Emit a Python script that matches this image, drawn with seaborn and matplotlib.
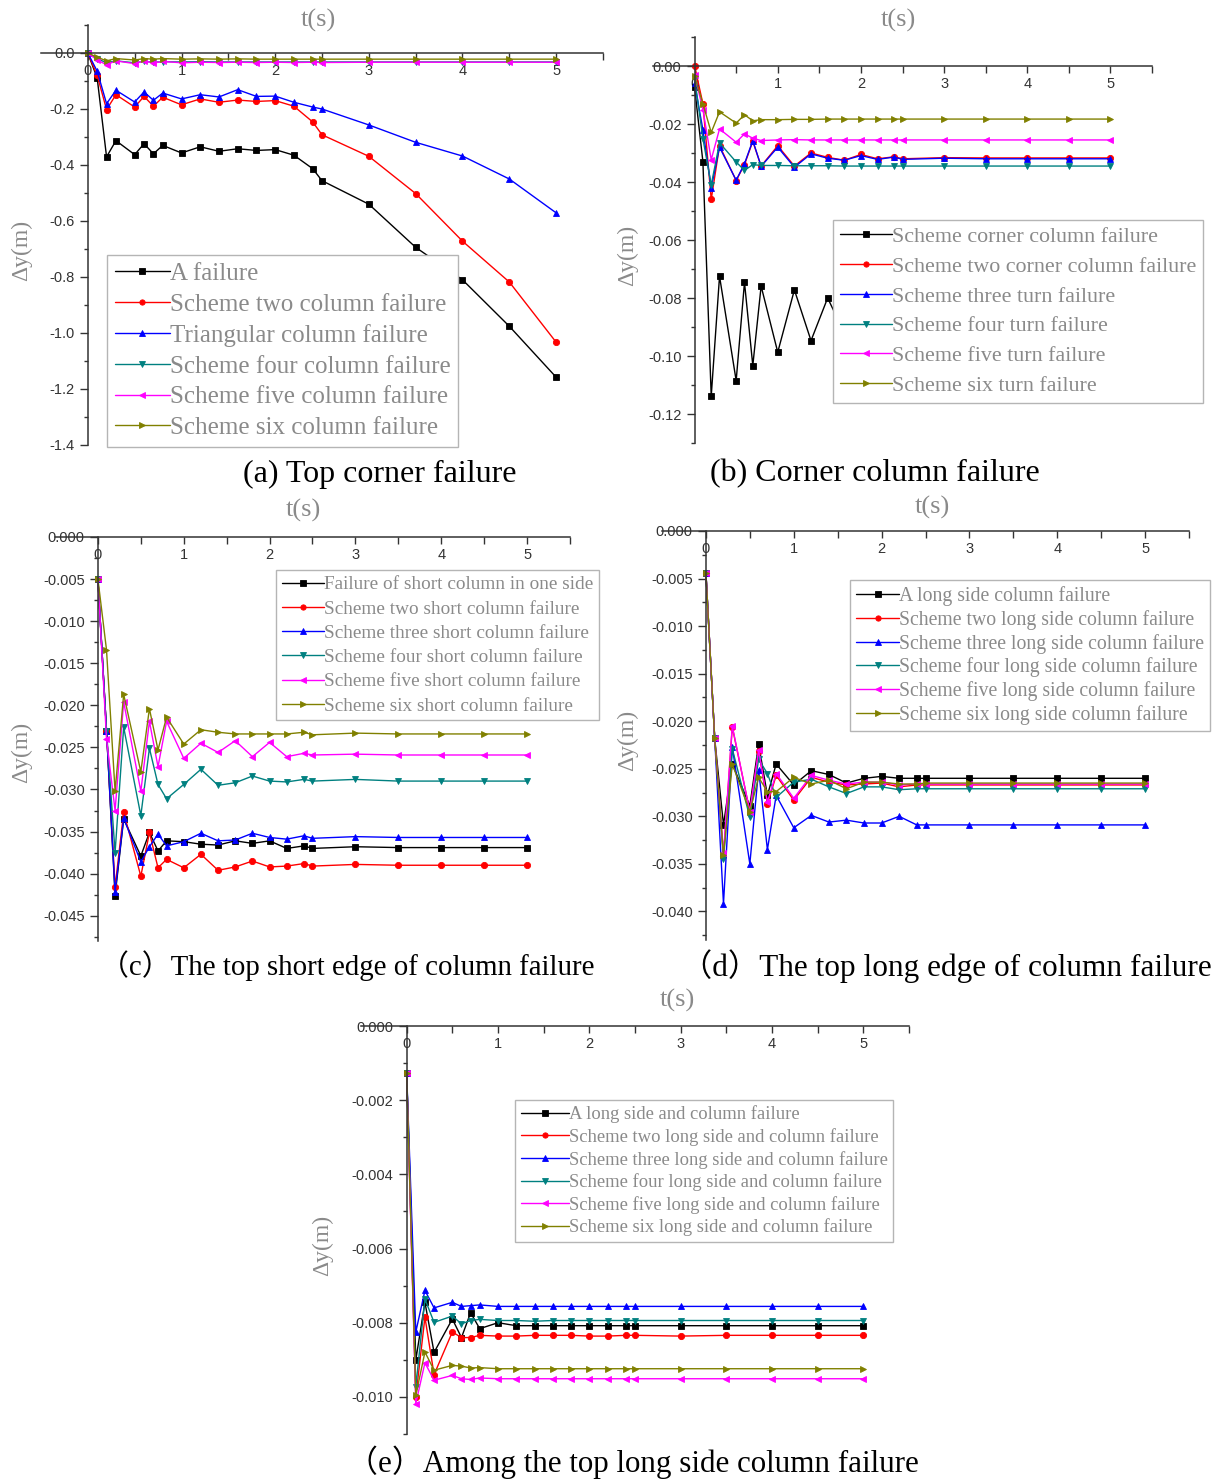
import numpy as np
import matplotlib
matplotlib.use("Agg")
import matplotlib.pyplot as plt
import seaborn as sns
from matplotlib.ticker import MultipleLocator, FixedLocator, FormatStrFormatter
from matplotlib.font_manager import FontProperties

# time steps (s)
t = [0, 0.1, 0.2, 0.3, 0.5, 0.6, 0.7, 0.8, 1.0, 1.2, 1.4, 1.6, 1.8, 2.0,
     2.2, 2.4, 2.5, 3.0, 3.5, 4.0, 4.5, 5.0]

# (a) Top corner failure
a_labels = ["A failure", "Scheme two column failure", "Triangular column failure",
            "Scheme four column failure", "Scheme five column failure",
            "Scheme six column failure"]
a_black = [0, -0.09, -0.371, -0.313, -0.363, -0.324, -0.360, -0.330, -0.357, -0.335, -0.351,
           -0.342, -0.348, -0.345, -0.365, -0.413, -0.456, -0.540, -0.694, -0.810, -0.976, -1.158]
a_red = [0, -0.08, -0.202, -0.149, -0.193, -0.155, -0.190, -0.158, -0.185, -0.164, -0.176,
         -0.168, -0.173, -0.170, -0.190, -0.246, -0.292, -0.369, -0.502, -0.672, -0.818, -1.033]
a_blue = [0, -0.065, -0.181, -0.133, -0.175, -0.139, -0.169, -0.143, -0.164, -0.149, -0.157,
          -0.131, -0.155, -0.154, -0.176, -0.193, -0.200, -0.257, -0.319, -0.368, -0.450, -0.571]
a_teal = [0, -0.020, -0.035, -0.028, -0.035, -0.030, -0.033, -0.031, -0.032, -0.031, -0.032,
          -0.032, -0.032, -0.032, -0.032, -0.032, -0.032, -0.032, -0.032, -0.032, -0.032, -0.032]
a_magenta = [0, -0.025, -0.042, -0.028, -0.038, -0.028, -0.036, -0.030, -0.035, -0.033, -0.034,
             -0.033, -0.034, -0.033, -0.034, -0.033, -0.034, -0.033, -0.033, -0.033, -0.033, -0.033]
a_olive = [0, -0.015, -0.028, -0.020, -0.025, -0.020, -0.022, -0.020, -0.022, -0.021, -0.022,
           -0.021, -0.022, -0.022, -0.022, -0.022, -0.022, -0.022, -0.022, -0.022, -0.022, -0.022]

# (b) Corner column failure
b_labels = ["Scheme corner column failure", "Scheme two corner column failure",
            "Scheme three turn failure", "Scheme four turn failure",
            "Scheme five turn failure", "Scheme six turn failure"]
b_black = [-0.0074, -0.033, -0.1139, -0.0725, -0.1085, -0.0746, -0.1033, -0.0759, -0.0987, -0.0772,
           -0.0947, -0.0800, -0.0920, -0.0820, -0.0900, -0.0840, -0.0880, -0.0860, -0.0870, -0.0865,
           -0.0868, -0.0866]
b_red = [0.0, -0.013, -0.046, -0.0275, -0.0395, -0.034, -0.026, -0.0345, -0.0275, -0.0345, -0.0300,
         -0.0315, -0.0325, -0.0305, -0.0320, -0.0313, -0.0320, -0.0316, -0.0317, -0.0317, -0.0317, -0.0317]
b_blue = [-0.006, -0.022, -0.042, -0.028, -0.0394, -0.0337, -0.0257, -0.0346, -0.0280, -0.0349, -0.0303,
          -0.0318, -0.0325, -0.0309, -0.0322, -0.0314, -0.0322, -0.0318, -0.0320, -0.0320, -0.0320, -0.0320]
b_teal = [-0.004, -0.025, -0.041, -0.0265, -0.0331, -0.0360, -0.0340, -0.0343, -0.0343, -0.0344, -0.0344,
          -0.0344, -0.0345, -0.0345, -0.0345, -0.0345, -0.0345, -0.0345, -0.0345, -0.0345, -0.0345, -0.0345]
b_magenta = [-0.003, -0.015, -0.0323, -0.0217, -0.0263, -0.0234, -0.0249, -0.0257, -0.0255, -0.0254, -0.0255,
             -0.0255, -0.0255, -0.0255, -0.0255, -0.0255, -0.0255, -0.0255, -0.0255, -0.0255, -0.0255, -0.0255]
b_olive = [-0.0035, -0.013, -0.0229, -0.0158, -0.0197, -0.0168, -0.0189, -0.0185, -0.0185, -0.0184, -0.0184,
           -0.0183, -0.0183, -0.0183, -0.0183, -0.0183, -0.0183, -0.0183, -0.0183, -0.0183, -0.0183, -0.0183]

# (c) The top short edge of column failure
c_labels = ["Failure of short column in one side", "Scheme two short column failure",
            "Scheme three short column failure", "Scheme four short column failure",
            "Scheme five short column failure", "Scheme six short column failure"]
c_black = [-0.005, -0.023, -0.0426, -0.0335, -0.0379, -0.0351, -0.0373, -0.0361, -0.0362, -0.0365, -0.0366,
           -0.0361, -0.0364, -0.0361, -0.0370, -0.0367, -0.0370, -0.0368, -0.0369, -0.0369, -0.0369, -0.0369]
c_red = [-0.005, -0.023, -0.0416, -0.0327, -0.0403, -0.0351, -0.0393, -0.0383, -0.0393, -0.0377, -0.0396,
         -0.0392, -0.0385, -0.0392, -0.0391, -0.0388, -0.0391, -0.0389, -0.0390, -0.0390, -0.0390, -0.0390]
c_blue = [-0.005, -0.023, -0.0422, -0.0334, -0.0386, -0.0368, -0.0353, -0.0367, -0.0362, -0.0352, -0.0361,
          -0.0360, -0.0352, -0.0357, -0.0359, -0.0355, -0.0358, -0.0356, -0.0357, -0.0357, -0.0357, -0.0357]
c_teal = [-0.005, -0.023, -0.0375, -0.0226, -0.0331, -0.0251, -0.0294, -0.0311, -0.0294, -0.0276, -0.0295,
          -0.0292, -0.0284, -0.0290, -0.0291, -0.0288, -0.0290, -0.0288, -0.0290, -0.0290, -0.0290, -0.0290]
c_magenta = [-0.005, -0.024, -0.0325, -0.0196, -0.0302, -0.0219, -0.0273, -0.0219, -0.0263, -0.0245, -0.0256,
             -0.0242, -0.0261, -0.0244, -0.0261, -0.0257, -0.0259, -0.0258, -0.0259, -0.0259, -0.0259, -0.0259]
c_olive = [-0.005, -0.0134, -0.0302, -0.0187, -0.0279, -0.0204, -0.0253, -0.0214, -0.0246, -0.0229, -0.0232,
           -0.0234, -0.0234, -0.0234, -0.0234, -0.0232, -0.0235, -0.0233, -0.0234, -0.0234, -0.0234, -0.0234]

# (d) The top long edge of column failure
d_labels = ["A long side column failure", "Scheme two long side column failure",
            "Scheme three long side column failure", "Scheme four long side column failure",
            "Scheme five long side column failure", "Scheme six long side column failure"]
d_black = [-0.0044, -0.0218, -0.0309, -0.0245, -0.0289, -0.0224, -0.0278, -0.0245, -0.0267, -0.0252, -0.0256,
           -0.0265, -0.0260, -0.0258, -0.0260, -0.0260, -0.0260, -0.0260, -0.0260, -0.0260, -0.0260, -0.0260]
d_red = [-0.0044, -0.0218, -0.0342, -0.0206, -0.0295, -0.0231, -0.0287, -0.0257, -0.0283, -0.0259, -0.0264,
         -0.0267, -0.0266, -0.0265, -0.0269, -0.0267, -0.0267, -0.0267, -0.0267, -0.0267, -0.0267, -0.0267]
d_blue = [-0.0044, -0.0218, -0.0392, -0.0227, -0.0350, -0.0251, -0.0335, -0.0278, -0.0312, -0.0299, -0.0306,
          -0.0304, -0.0307, -0.0307, -0.0300, -0.0309, -0.0309, -0.0309, -0.0309, -0.0309, -0.0309, -0.0309]
d_teal = [-0.0044, -0.0218, -0.0345, -0.0229, -0.0301, -0.0240, -0.0255, -0.0280, -0.0264, -0.0261, -0.0269,
          -0.0276, -0.0269, -0.0269, -0.0272, -0.0271, -0.0271, -0.0271, -0.0271, -0.0271, -0.0271, -0.0271]
d_magenta = [-0.0044, -0.0218, -0.0339, -0.0205, -0.0295, -0.0230, -0.0285, -0.0255, -0.0281, -0.0257, -0.0262,
             -0.0266, -0.0264, -0.0264, -0.0267, -0.0266, -0.0266, -0.0266, -0.0266, -0.0266, -0.0266, -0.0266]
d_olive = [-0.0044, -0.0218, -0.0341, -0.0245, -0.0295, -0.0259, -0.0274, -0.0274, -0.0259, -0.0266, -0.0262,
           -0.0271, -0.0264, -0.0264, -0.0266, -0.0266, -0.0265, -0.0265, -0.0265, -0.0265, -0.0265, -0.0265]

# (e) Among the top long side column failure
e_labels = ["A long side and column failure", "Scheme two long side and column failure",
            "Scheme three long side and column failure", "Scheme four long side and column failure",
            "Scheme five long side and column failure", "Scheme six long side and column failure"]
e_black = [-0.00127, -0.0090, -0.00745, -0.0088, -0.0079, -0.0084, -0.00773, -0.00816, -0.0080, -0.00808,
           -0.00808, -0.00808, -0.00808, -0.00808, -0.00808, -0.00808, -0.00808, -0.00808, -0.00808,
           -0.00808, -0.00808, -0.00808]
e_red = [-0.00127, -0.0100, -0.00785, -0.0094, -0.00825, -0.0084, -0.0084, -0.00834, -0.00836, -0.00836,
         -0.00834, -0.00834, -0.00834, -0.00836, -0.00836, -0.00834, -0.00834, -0.00836, -0.00834,
         -0.00834, -0.00834, -0.00834]
e_blue = [-0.00127, -0.00825, -0.00713, -0.0076, -0.00745, -0.00756, -0.00754, -0.00752, -0.00756, -0.00756,
          -0.00756, -0.00756, -0.00756, -0.00756, -0.00756, -0.00756, -0.00756, -0.00756, -0.00756,
          -0.00756, -0.00756, -0.00756]
e_teal = [-0.00127, -0.00973, -0.00736, -0.00799, -0.00782, -0.00803, -0.00794, -0.00791, -0.00794, -0.00794,
          -0.00796, -0.00794, -0.00794, -0.00794, -0.00794, -0.00794, -0.00794, -0.00794, -0.00794,
          -0.00794, -0.00794, -0.00794]
e_magenta = [-0.00127, -0.01018, -0.00908, -0.00955, -0.00942, -0.00951, -0.00953, -0.00949, -0.00951, -0.00951,
             -0.00951, -0.00951, -0.00951, -0.00951, -0.00951, -0.00951, -0.00951, -0.00951, -0.00951,
             -0.00951, -0.00951, -0.00951]
e_olive = [-0.00127, -0.00996, -0.00879, -0.00928, -0.00915, -0.00917, -0.00922, -0.00921, -0.00924, -0.00924,
           -0.00924, -0.00924, -0.00924, -0.00924, -0.00924, -0.00924, -0.00924, -0.00924, -0.00924,
           -0.00924, -0.00924, -0.00924]

COLORS = ["black", "#ff0000", "#0000ff", "#008080", "#ff00ff", "#808000"]
MARKERS = ["s", "o", "^", "v", "<", ">"]

sns.set_style("ticks")
plt.rcParams["font.family"] = ["Liberation Sans", "DejaVu Sans"]

W, H = 1217, 1481
fig = plt.figure(figsize=(W / 100, H / 100), dpi=100)

serif = ["Liberation Serif", "DejaVu Serif"]
cap_family = ["Liberation Serif", "Noto Sans CJK SC"]
GRAY = "#8a8a8a"


def px_axes(x0, x1, y0, y1):
    # pixel box (left, right, top, bottom) -> figure axes
    return fig.add_axes([x0 / W, 1 - y1 / H, (x1 - x0) / W, (y1 - y0) / H])


def panel(box, ylim, ymaj, fmt, series, labels, leg_xy, leg_size, leg_space, hlen,
          title_xy, ylab_xy, cap_xy, caption, cap_size, cap_ha="center"):
    ax = px_axes(*box)
    for vals, lab, c, m in zip(series, labels, COLORS, MARKERS):
        sns.lineplot(x=t, y=vals, ax=ax, color=c, marker=m, markersize=4.5,
                     markeredgecolor=c, markeredgewidth=0.6, linewidth=1.0, label=lab)
    ax.set_xlim(-0.5, 5.5)
    ax.set_ylim(*ylim)
    # origin-style axes crossing at (0, 0)
    ax.spines["left"].set_position(("data", 0))
    ax.spines["bottom"].set_position(("data", 0))
    ax.spines["top"].set_visible(False)
    ax.spines["right"].set_visible(False)
    for s in ("left", "bottom"):
        ax.spines[s].set_color("#333333")
        ax.spines[s].set_linewidth(1.1)
    ax.xaxis.set_major_locator(FixedLocator([0, 1, 2, 3, 4, 5]))
    ax.xaxis.set_minor_locator(FixedLocator(np.arange(0.5, 5.6, 1.0)))
    ax.xaxis.set_major_formatter(FormatStrFormatter("%d"))
    ax.yaxis.set_major_locator(MultipleLocator(ymaj))
    ax.yaxis.set_minor_locator(MultipleLocator(ymaj / 2))
    ax.yaxis.set_major_formatter(FormatStrFormatter(fmt))
    ax.tick_params(axis="both", which="both", direction="out", colors="#333333",
                   labelsize=10.5, width=1.0)
    ax.tick_params(axis="x", which="both", length=5, pad=3)
    ax.tick_params(axis="y", which="major", length=6)
    ax.tick_params(axis="y", which="minor", length=3)
    ax.set_xlabel("")
    ax.set_ylabel("")

    leg = ax.legend(loc="upper left", bbox_to_anchor=(leg_xy[0] / W, 1 - leg_xy[1] / H),
                    bbox_transform=fig.transFigure, prop=FontProperties(family=serif, size=leg_size),
                    frameon=True, fancybox=False, edgecolor="#b5b5b5", framealpha=1,
                    borderaxespad=0, borderpad=0.3, handlelength=hlen, handletextpad=0.0,
                    labelspacing=leg_space, markerscale=0.85)
    leg.get_frame().set_linewidth(1.0)
    for txt in leg.get_texts():
        txt.set_color(GRAY)

    fig.text(title_xy[0] / W, 1 - title_xy[1] / H, "t(s)", color=GRAY, ha="center", va="center",
             fontproperties=FontProperties(family=serif, size=19))
    fig.text(ylab_xy[0] / W, 1 - ylab_xy[1] / H, "Δy(m)", color=GRAY, ha="center", va="center",
             rotation=90, fontproperties=FontProperties(family=serif, size=17))
    fig.text(cap_xy[0] / W, 1 - cap_xy[1] / H, caption, color="black", ha=cap_ha, va="center",
             fontproperties=FontProperties(family=cap_family, size=cap_size))
    return ax


panel((41, 603, 25, 445), (-1.4, 0.1), 0.2, "%.1f",
      [a_black, a_red, a_blue, a_teal, a_magenta, a_olive], a_labels,
      (107, 255), 18, 0.33, 2.2, (318, 20), (22, 250), (380, 474),
      "(a) Top corner failure", 23)

panel((653, 1152, 37, 443), (-0.13, 0.01), 0.02, "%.2f",
      [b_black, b_red, b_blue, b_teal, b_magenta, b_olive], b_labels,
      (833, 220), 15.8, 0.43, 2.4, (898, 20), (628, 255), (875, 474),
      "(b) Corner column failure", 23)

panel((55, 570, 537, 941), (-0.048, 0.0), 0.005, "%.3f",
      [c_black, c_red, c_blue, c_teal, c_magenta, c_olive], c_labels,
      (276, 570), 13.9, 0.35, 2.2, (303, 510), (22, 752), (100, 966),
      "（c）The top short edge of column failure", 20.8, "left")

panel((662, 1189, 531, 940), (-0.043, 0.0), 0.005, "%.3f",
      [d_black, d_red, d_blue, d_teal, d_magenta, d_olive], d_labels,
      (850, 580), 14.2, 0.2, 2.2, (932, 507), (628, 740), (1212, 966),
      "（d）The top long edge of column failure", 22.5, "right")

panel((361, 909, 1026, 1434), (-0.011, 0.0), 0.002, "%.3f",
      [e_black, e_red, e_blue, e_teal, e_magenta, e_olive], e_labels,
      (515, 1100), 13.4, 0.25, 2.6, (677, 1000), (323, 1245), (633, 1462),
      "（e）Among the top long side column failure", 22.3)

fig.savefig("out.png", dpi=100)
